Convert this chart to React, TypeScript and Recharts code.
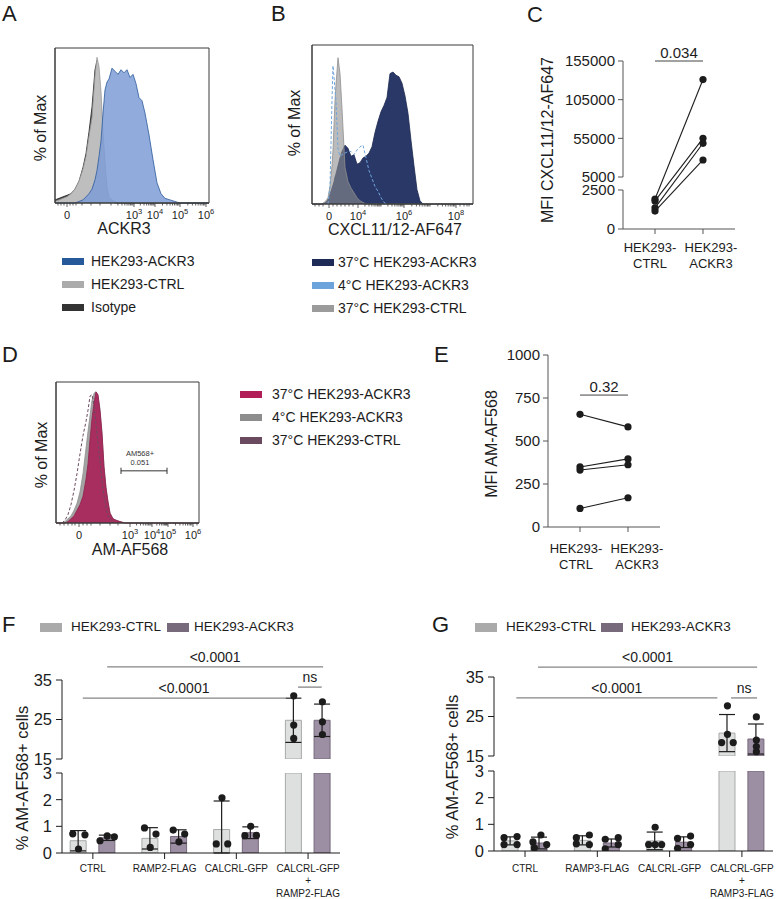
import React from 'react'
import {
  ComposedChart, Area, Line, Bar, Scatter, ErrorBar, Cell,
  XAxis, YAxis, ReferenceLine, ReferenceArea,
} from 'recharts'

const FONT = '"Liberation Sans", Arial, Helvetica, sans-serif'
const INK = '#1c1c1c'
const BOX = '#3a3a3a'

// ---- A: ACKR3 staining (x = position on the biexponential display axis, y = % of max)
const aBins = [0, 4, 8, 12, 16, 20, 24, 28, 31, 34, 37, 40, 42, 44, 46, 48, 50, 52, 54, 57, 60, 63, 66, 69, 72, 75, 78, 81, 84, 87, 90, 94, 98, 102, 106, 110, 115, 120, 125, 130, 140, 154]
const aIsotype = [2, 3, 4, 5, 6, 9, 14, 23, 32, 46, 62, 86, 92, 80, 60, 36, 18, 7, 3, 1, 0, 0, 0, 0, 0, 0, 0, 0, 0, 0, 0, 0, 0, 0, 0, 0, 0, 0, 0, 0, 0, 0]
const aCtrl = [1, 2, 3, 4, 6, 9, 14, 22, 30, 43, 55, 82, 94, 88, 72, 46, 27, 10, 4, 2, 1, 0, 0, 0, 0, 0, 0, 0, 0, 0, 0, 0, 0, 0, 0, 0, 0, 0, 0, 0, 0, 0]
const aAckr3 = [0, 0, 0, 0, 0, 0, 1, 2, 4, 6, 9, 15, 21, 30, 40, 58, 73, 78, 80, 87, 85, 83, 86, 84, 86, 81, 83, 77, 68, 66, 58, 44, 28, 13, 6, 3, 2, 1, 0, 0, 0, 0]
const aMajor = [12, 79, 100, 125, 151]
const aMajorLabels = ['0', '10^3', '10^4', '10^5', '10^6']

// ---- B: CXCL11/12 uptake
const bBins = [0, 10, 14, 16, 18, 20, 21, 22, 23, 24, 26, 28, 30, 33, 36, 39, 42, 45, 48, 51, 54, 57, 60, 63, 66, 69, 72, 75, 78, 81, 84, 87, 90, 93, 96, 99, 102, 105, 108, 111, 120, 140, 161]
const b37Ackr3 = [0, 0, 1, 3, 6, 10, 12, 14, 17, 19, 24, 29, 33, 37, 35, 30, 31, 25, 26, 29, 30, 32, 36, 45, 52, 58, 62, 67, 82, 83, 81, 80, 76, 68, 57, 40, 24, 9, 2, 0, 0, 0, 0]
const b37Ctrl = [0, 0, 2, 4, 11, 24, 34, 50, 65, 75, 92, 82, 60, 23, 14, 10, 7, 4, 2, 1, 0, 0, 0, 0, 0, 0, 0, 0, 0, 0, 0, 0, 0, 0, 0, 0, 0, 0, 0, 0, 0, 0, 0]
const b4Ackr3 = [null, null, null, 0, 11, 65, 87, 80, 72, 65, 35, 30, 31, 32, 33, 33, 31, 34, 36, 37, 29, 21, 16, 11, 8, 4, 1, 0, null, null, null, null, null, null, null, null, null, null, null, null, null, null, null]
const bMajor = [17, 46, 92, 144]
const bMajorLabels = ['0', '10^4', '10^6', '10^8']

// ---- C: MFI CXCL11/12-AF647, paired
const cCtrl = [1920, 1800, 1350, 1150]
const cAckr3 = [131000, 55000, 48600, 27000]
const cTicks = [0, 2500, 5000, 55000, 105000, 155000]
const cTickLabels = ['0', '2500', '5000', '55000', '105000', '155000']

// ---- D: AM-AF568 uptake
const dBins = [0, 6, 9, 12, 15, 18, 21, 24, 27, 30, 32, 34, 36, 38, 40, 42, 44, 46, 48, 50, 52, 54, 57, 60, 64, 69, 80, 143]
const d37Ackr3 = [0, 0, 0, 1, 3, 5, 9, 13, 19, 31, 42, 59, 74, 85, 93, 91, 80, 64, 40, 25, 15, 7, 3, 2, 1, 0, 0, 0]
const d4Ackr3 = [0, 0, 1, 3, 5, 9, 14, 22, 35, 53, 65, 76, 87, 92, 93, 90, 80, 63, 40, 25, 15, 7, 3, 2, 1, 0, 0, 0]
const d37Ctrl = [null, 0, 2, 6, 13, 23, 35, 49, 62, 72, 80, 90, 91, 84, 70, 57, 43, 30, 19, 11, 5, 3, 1, 0, null, null, null, null]
const dMajor = [23, 74, 96, 112, 137]
const dMajorLabels = ['0', '10^3', '10^4', '10^5', '10^6']

// ---- E: MFI AM-AF568, paired
const eCtrl = [655, 349, 331, 108]
const eAckr3 = [582, 396, 362, 170]
const eTicks = [0, 250, 500, 750, 1000]

// ---- F: RAMP2 experiment
const fCats = [['CTRL'], ['RAMP2-FLAG'], ['CALCRL-GFP'], ['CALCRL-GFP', '+', 'RAMP2-FLAG']]
const fCtrlMean = [0.46, 0.55, 0.88, 24.8]
const fCtrlSd = [0.38, 0.4, 1.07, 5.6]
const fAckMean = [0.57, 0.62, 0.76, 24.8]
const fAckSd = [0.1, 0.25, 0.22, 4.1]
const fCtrlDots = [[0.72, 0.68, 0.15], [0.94, 0.71, 0.21], [2.07, 0.34, 0.34], [31.0, 23.6, 20.2]]
const fAckDots = [[0.46, 0.64, 0.61], [0.86, 0.71, 0.42], [1.0, 0.65, 0.66], [29.5, 24.4, 21.2]]
const fCtrlJit = [[-0.08, 0.09, 0], [-0.08, 0.08, 0], [0, -0.08, 0.08], [0, 0, 0]]
const fAckJit = [[-0.1, 0, 0.1], [-0.08, 0.08, 0], [0, -0.08, 0.08], [0, 0, 0]]
const fSig = [
  { x1: 0.2, x2: 3.21, y: 38.3, text: '<0.0001' },
  { x1: -0.14, x2: 2.68, y: 30.4, text: '<0.0001' },
  { x1: 2.86, x2: 3.19, y: 33.2, text: 'ns' },
]

// ---- G: RAMP3 experiment
const gCats = [['CTRL'], ['RAMP3-FLAG'], ['CALCRL-GFP'], ['CALCRL-GFP', '+', 'RAMP3-FLAG']]
const gCtrlMean = [0.38, 0.4, 0.38, 20.8]
const gCtrlSd = [0.15, 0.17, 0.33, 4.7]
const gAckMean = [0.3, 0.3, 0.33, 19.3]
const gAckSd = [0.22, 0.15, 0.2, 3.8]
const gCtrlDots = [[0.5, 0.54, 0.24, 0.24], [0.5, 0.6, 0.27, 0.24], [0.89, 0.24, 0.24, 0.24], [27.7, 20.5, 18.4, 18.4]]
const gAckDots = [[0.34, 0.6, 0.12, 0.24], [0.44, 0.5, 0.08, 0.24], [0.47, 0.56, 0.1, 0.24], [24.9, 19.05, 17.4, 16.1]]
const gCtrlJit = [[-0.09, 0.09, -0.09, 0.09], [-0.09, 0.09, -0.09, 0.09], [0, -0.09, 0, 0.09], [0, 0, -0.08, 0.08]]
const gAckJit = [[-0.09, 0.02, -0.07, 0.1], [-0.09, 0.09, -0.09, 0.09], [-0.09, 0.09, -0.09, 0.09], [0, 0, 0, 0]]
const gSig = [
  { x1: 0.18, x2: 3.21, y: 37.5, text: '<0.0001' },
  { x1: -0.12, x2: 2.66, y: 29.7, text: '<0.0001' },
  { x1: 2.85, x2: 3.21, y: 29.7, text: 'ns' },
]

const CTRL_FILL = '#DDE0DF'
const CTRL_LINE = '#A7A9A8'
const ACK_FILL = '#9D8FA3'
const ACK_LINE = '#76687B'

// minor ticks inside one decade of a log axis
function decade(a: number, b: number) {
  return [2, 3, 4, 5, 6, 7, 8, 9].map((k) => a + (b - a) * Math.log10(k))
}

const aMinor = [3, 6, 9, 15, 18, 21, 27, 36, 45, 56, ...decade(56, 79), ...decade(79, 100), ...decade(100, 125), ...decade(125, 151)]
const bMinor = [3, 7, 11, 21, 25, 29, 33, 37, 41, ...decade(46, 69), 69, ...decade(69, 92), ...decade(92, 118), 118, ...decade(118, 144), 148, 152, 155, 157]
const dMinor = [4, 8, 12, 16, 19, 27, 31, 35, 44, 54, 62, ...decade(74, 96), ...decade(96, 112), ...decade(112, 137), 141]

const TS = 3

function FlowTick(props: any) {
  const { x, y, payload, majors, labels } = props
  const ax = y - TS
  const idx = majors.indexOf(payload.value)
  const major = idx >= 0
  const parts = major ? String(labels[idx]).split('^') : []
  return (
    <g>
      <line x1={x} x2={x} y1={ax} y2={ax + (major ? 4 : 2.5)} stroke={BOX} strokeWidth={0.8} />
      {major && (
        <text x={x} y={ax + 16} textAnchor="middle" fontSize={11} fill={INK}>
          {parts[0]}
          {parts[1] && <tspan dy={-5} fontSize={7.5}>{parts[1]}</tspan>}
        </text>
      )}
    </g>
  )
}

function CatTick(props: any) {
  const { x, y, payload, lines, size, lead, gap, dxs } = props
  const rows: string[] = lines[payload.value] || []
  const dx = dxs ? dxs[payload.value] || 0 : 0
  return (
    <g>
      {rows.map((t, i) => (
        <text key={i} x={x + dx} y={y + lead + i * gap} textAnchor="middle" fontSize={size} fill={INK}>{t}</text>
      ))}
    </g>
  )
}

type Layer = { values: (number | null)[]; fill?: string; stroke: string; fillOpacity?: number; line?: boolean }

function FlowPanel(props: {
  left: number; top: number; yw: number; pw: number; ph: number; bins: number[]; layers: Layer[]
  majors: number[]; labels: string[]; minors: number[]; children?: React.ReactNode
}) {
  const { left, top, yw, pw, ph, bins, layers, majors, labels, minors } = props
  const rows = bins.map((x, i) => {
    const r: any = { x }
    layers.forEach((l, j) => { r['s' + j] = l.values[i] })
    return r
  })
  return (
    <div style={{ position: 'absolute', left, top }}>
      <ComposedChart width={yw + pw + 8} height={18 + ph + 30} data={rows} margin={{ top: 18, right: 8, bottom: 0, left: 0 }}>
        <XAxis type="number" dataKey="x" domain={[0, pw]} ticks={[...majors, ...minors]} interval={0} height={30}
          tickSize={TS} tickMargin={0} tickLine={false} axisLine={{ stroke: BOX }}
          tick={<FlowTick majors={majors} labels={labels} />} />
        <YAxis type="number" domain={[0, 100]} width={yw} tick={false} tickLine={false} axisLine={{ stroke: BOX }} />
        {layers.map((l, j) => l.line ? (
          <Line key={j} type="linear" dataKey={'s' + j} stroke={l.stroke} strokeWidth={1} strokeDasharray="3 2"
            dot={false} activeDot={false} isAnimationActive={false} />
        ) : (
          <Area key={j} type="linear" dataKey={'s' + j} fill={l.fill} fillOpacity={l.fillOpacity ?? 1} stroke={l.stroke}
            strokeWidth={0.8} dot={false} activeDot={false} isAnimationActive={false} />
        ))}
        <ReferenceArea x1={0} x2={pw} y1={0} y2={100} fill="none" stroke={BOX} strokeWidth={1} ifOverflow="visible" />
        {props.children}
      </ComposedChart>
    </div>
  )
}

function GateLabel(props: any) {
  const vb = props.viewBox || {}
  const cx = vb.x + (vb.width || 0) / 2 - 4
  return (
    <g>
      <text x={cx} y={vb.y - 15} textAnchor="middle" fontSize={7.5} fill="#333">AM568+</text>
      <text x={cx} y={vb.y - 6} textAnchor="middle" fontSize={7.5} fill="#333">0.051</text>
    </g>
  )
}

// broken y axis of panel C: 0–2500 below, 5000–155000 above
function Cy(v: number) {
  return v <= 2500 ? (v / 2500) * 39 : 52 + ((v - 5000) / 150000) * 116
}
const C_XMIN = -0.667

const dotShape = (p: any) => <circle cx={p.cx} cy={p.cy} r={3.6} fill={INK} />

function barRows(cm: number[], cs: number[], am: number[], as: number[], off: number) {
  const rows: any[] = []
  cm.forEach((m, i) => {
    rows.push({ x: i - off, v: m, sd: cs[i], kind: 0 })
    rows.push({ x: i + off, v: am[i], sd: as[i], kind: 1 })
  })
  return rows
}

function dotRows(vals: number[][], jit: number[][], side: number, off: number) {
  const out: any[] = []
  vals.forEach((arr, i) => arr.forEach((y, k) => out.push({ x: i + side * off + jit[i][k], y })))
  return out
}

function BarPanel(props: {
  left: number; yw: number; pw: number; upperTop: number; lowerTop: number; xDomain: number[]; cats: string[][]
  cm: number[]; cs: number[]; am: number[]; as: number[]; cd: number[][]; ad: number[][]; cj: number[][]; aj: number[][]
  sig: { x1: number; x2: number; y: number; text: string }[]; lead: number
}) {
  const OFF = 0.2
  const W = props.yw + props.pw + 10
  const rows = barRows(props.cm, props.cs, props.am, props.as, OFF)
  const upper = rows.map((r) => ({ ...r, v: Math.max(r.v, 15), err: r.v >= 15 ? [r.sd, r.sd] : null }))
  const lower = rows.map((r) => ({ ...r, v: Math.min(r.v, 3), err: r.v <= 3 ? [Math.min(r.sd, r.v), r.sd] : null }))
  const dots = [...dotRows(props.cd, props.cj, -1, OFF), ...dotRows(props.ad, props.aj, 1, OFF)]
  const yAxisStyle = {
    type: 'number' as const, width: props.yw, allowDataOverflow: true, interval: 0,
    tick: { fontSize: 16.5, fill: INK }, tickSize: 6, tickMargin: 4,
    axisLine: { stroke: INK }, tickLine: { stroke: INK },
  }
  const cells = rows.map((r, i) => (
    <Cell key={i} fill={r.kind ? ACK_FILL : CTRL_FILL} stroke={r.kind ? ACK_LINE : CTRL_LINE} strokeWidth={1} />
  ))
  // dots live on their own (hidden) x axis so their jitter does not shrink the bar band
  const dotAxis = <XAxis xAxisId="dots" type="number" dataKey="x" domain={props.xDomain} ticks={[0, 1, 2, 3]} hide />
  return (
    <>
      <div style={{ position: 'absolute', left: props.left, top: props.upperTop }}>
        <ComposedChart width={W} height={40 + 79 + 9} data={upper} margin={{ top: 40, right: 10, bottom: 9, left: 0 }}>
          <XAxis type="number" dataKey="x" domain={props.xDomain} ticks={[0, 1, 2, 3]} hide />
          {dotAxis}
          <YAxis {...yAxisStyle} domain={[15, 35]} ticks={[15, 25, 35]} />
          <Bar dataKey="v" barSize={16} isAnimationActive={false}>
            {cells}
            <ErrorBar dataKey="err" width={8} stroke={INK} strokeWidth={1.2} direction="y" />
          </Bar>
          <Scatter xAxisId="dots" data={dots.filter((d) => d.y >= 15)} dataKey="y" shape={dotShape} isAnimationActive={false} />
          {props.sig.map((s, i) => (
            <ReferenceLine key={i} segment={[{ x: s.x1, y: s.y }, { x: s.x2, y: s.y }]} stroke="#858585" strokeWidth={1.3}
              ifOverflow="visible" label={{ value: s.text, position: 'top', fontSize: 14, fill: INK, offset: 5 }} />
          ))}
        </ComposedChart>
      </div>
      <div style={{ position: 'absolute', left: props.left, top: props.lowerTop }}>
        <ComposedChart width={W} height={10 + 80 + 46} data={lower} margin={{ top: 10, right: 10, bottom: 0, left: 0 }}>
          <XAxis type="number" dataKey="x" domain={props.xDomain} ticks={[0, 1, 2, 3]} interval={0} height={46}
            tickSize={6} tickMargin={0} axisLine={{ stroke: INK }} tickLine={{ stroke: INK }}
            tick={<CatTick lines={props.cats} size={10} lead={props.lead} gap={12.5} />} />
          {dotAxis}
          <YAxis {...yAxisStyle} domain={[0, 3]} ticks={[0, 1, 2, 3]} />
          <Bar dataKey="v" barSize={16} isAnimationActive={false}>
            {cells}
            <ErrorBar dataKey="err" width={8} stroke={INK} strokeWidth={1.2} direction="y" />
          </Bar>
          <Scatter xAxisId="dots" data={dots.filter((d) => d.y <= 3)} dataKey="y" shape={dotShape} isAnimationActive={false} />
        </ComposedChart>
      </div>
    </>
  )
}

function T({ x, y, size = 14, anchor = 'start', children }: any) {
  const tx = anchor === 'middle' ? '-50%' : anchor === 'end' ? '-100%' : '0'
  return (
    <div style={{ position: 'absolute', left: x, top: y, transform: `translate(${tx}, -50%)`, fontSize: size, lineHeight: 1, whiteSpace: 'nowrap', color: INK }}>
      {children}
    </div>
  )
}

function VT({ x, y, size = 16, children }: any) {
  return (
    <div style={{ position: 'absolute', left: x, top: y, transform: 'translate(-50%, -50%) rotate(-90deg)', fontSize: size, lineHeight: 1, whiteSpace: 'nowrap', color: INK }}>
      {children}
    </div>
  )
}

function Legend3({ x, tx, y0, step, items, h = 7, size = 14 }: any) {
  return (
    <>
      {items.map((it: string[], i: number) => (
        <React.Fragment key={i}>
          <div style={{ position: 'absolute', left: x, top: y0 + i * step - h / 2, width: 22, height: h, background: it[1] }} />
          <T x={tx} y={y0 + i * step} size={size}>{it[0]}</T>
        </React.Fragment>
      ))}
    </>
  )
}

const aLegend = [['HEK293-ACKR3', '#25599A'], ['HEK293-CTRL', '#ABABAB'], ['Isotype', '#333333']]
const bLegend = [['37°C HEK293-ACKR3', '#1E2B57'], ['4°C HEK293-ACKR3', '#6CA3DB'], ['37°C HEK293-CTRL', '#9B9B9B']]
const dLegend = [['37°C HEK293-ACKR3', '#B21E58'], ['4°C HEK293-ACKR3', '#8D8D8D'], ['37°C HEK293-CTRL', '#6A4A5E']]
const pairCats = [['HEK293-', 'CTRL'], ['HEK293-', 'ACKR3']]

export default function App() {
  const cTickPos = cTicks.map(Cy)
  return (
    <div style={{ position: 'absolute', left: 0, top: 0, width: 780, height: 899, background: '#fff', fontFamily: FONT, color: INK, overflow: 'hidden' }}>
      {/* panel letters */}
      <T x={2} y={14} size={22}>A</T>
      <T x={271} y={14} size={22}>B</T>
      <T x={527} y={15} size={22}>C</T>
      <T x={2} y={355} size={22}>D</T>
      <T x={434} y={355} size={22}>E</T>
      <T x={2} y={625} size={22}>F</T>
      <T x={432} y={625} size={22}>G</T>

      {/* A */}
      <FlowPanel left={0} top={30} yw={55} pw={154} ph={155} bins={aBins} majors={aMajor} labels={aMajorLabels} minors={aMinor}
        layers={[
          { values: aIsotype, fill: '#4a4a4a', stroke: '#1f1f1f' },
          { values: aCtrl, fill: '#BEBEBE', stroke: '#9a9a9a' },
          { values: aAckr3, fill: '#7D9CD6', stroke: '#2C5A9A', fillOpacity: 0.85 },
        ]} />
      <VT x={41} y={128}>% of Max</VT>
      <T x={124} y={229} size={16} anchor="middle">ACKR3</T>
      <Legend3 x={62} tx={91} y0={261} step={23} items={aLegend} />

      {/* B */}
      <FlowPanel left={250} top={27} yw={62} pw={161} ph={159} bins={bBins} majors={bMajor} labels={bMajorLabels} minors={bMinor}
        layers={[
          { values: b37Ackr3, fill: '#2A3868', stroke: '#1B274F' },
          { values: b37Ctrl, fill: '#8E8E8E', stroke: '#8E8E8E', fillOpacity: 0.6 },
          { values: b4Ackr3, stroke: '#6FA6DC', line: true },
        ]} />
      <VT x={295} y={123}>% of Max</VT>
      <T x={395} y={230} size={16} anchor="middle">CXCL11/12-AF647</T>
      <Legend3 x={312} tx={338} y0={262} step={23} items={bLegend} />

      {/* C */}
      <div style={{ position: 'absolute', left: 500, top: 40 }}>
        <ComposedChart width={243} height={21 + 168 + 45} margin={{ top: 21, right: 8, bottom: 0, left: 0 }}>
          <XAxis type="number" dataKey="x" domain={[C_XMIN, 1.667]} ticks={[0, 1]} interval={0} height={45}
            tickSize={5} tickMargin={0} axisLine={{ stroke: '#555' }} tickLine={{ stroke: '#555' }}
            tick={<CatTick lines={pairCats} size={13} lead={17.5} gap={16} dxs={[-5, 8]} />} />
          <YAxis type="number" domain={[0, 168]} ticks={cTickPos} interval={0} width={123} axisLine={false}
            tickLine={{ stroke: '#555' }} tickSize={5} tickMargin={3} tick={{ fontSize: 15, fill: INK }}
            tickFormatter={(v: number) => cTickLabels[cTickPos.indexOf(v)]} />
          <ReferenceLine segment={[{ x: C_XMIN, y: 0 }, { x: C_XMIN, y: Cy(2500) }]} stroke="#555" ifOverflow="visible" />
          <ReferenceLine segment={[{ x: C_XMIN, y: Cy(5000) }, { x: C_XMIN, y: Cy(155000) }]} stroke="#555" ifOverflow="visible" />
          <ReferenceLine segment={[{ x: 0, y: Cy(155000) }, { x: 1, y: Cy(155000) }]} stroke="#444" ifOverflow="visible"
            label={{ value: '0.034', position: 'top', fontSize: 15, fill: INK, offset: 3 }} />
          {cCtrl.map((v, i) => (
            <Line key={i} data={[{ x: 0, y: Cy(v) }, { x: 1, y: Cy(cAckr3[i]) }]} dataKey="y" stroke={INK} strokeWidth={1.1}
              dot={{ r: 3.6, fill: INK, stroke: INK, strokeWidth: 0 }} activeDot={false} isAnimationActive={false} />
          ))}
        </ComposedChart>
      </div>
      <VT x={548} y={140}>MFI CXCL11/12-AF647</VT>

      {/* D */}
      <FlowPanel left={0} top={364} yw={56} pw={143} ph={141} bins={dBins} majors={dMajor} labels={dMajorLabels} minors={dMinor}
        layers={[
          { values: d37Ctrl, stroke: '#6B4B5F', line: true },
          { values: d4Ackr3, fill: '#A3A3A3', stroke: '#8F8F8F' },
          { values: d37Ackr3, fill: '#A9285C', stroke: '#8F1F4D', fillOpacity: 0.95 },
        ]}>
        <ReferenceLine segment={[{ x: 65, y: 37 }, { x: 111, y: 37 }]} stroke="#333" ifOverflow="visible" label={<GateLabel />} />
        <ReferenceLine segment={[{ x: 65, y: 34.8 }, { x: 65, y: 39.2 }]} stroke="#333" ifOverflow="visible" />
        <ReferenceLine segment={[{ x: 111, y: 34.8 }, { x: 111, y: 39.2 }]} stroke="#333" ifOverflow="visible" />
      </FlowPanel>
      <VT x={42} y={455}>% of Max</VT>
      <T x={130} y={550} size={16} anchor="middle">AM-AF568</T>
      <Legend3 x={240} tx={272} y0={394} step={23} items={dLegend} />

      {/* E */}
      <div style={{ position: 'absolute', left: 430, top: 340 }}>
        <ComposedChart width={238} height={15 + 172 + 45} margin={{ top: 15, right: 8, bottom: 0, left: 0 }}>
          <XAxis type="number" dataKey="x" domain={[-0.667, 1.667]} ticks={[0, 1]} interval={0} height={45}
            tickSize={5} tickMargin={0} axisLine={{ stroke: '#555' }} tickLine={{ stroke: '#555' }}
            tick={<CatTick lines={pairCats} size={13} lead={21} gap={16} dxs={[-4, 9]} />} />
          <YAxis type="number" domain={[0, 1000]} ticks={eTicks} interval={0} width={118} axisLine={{ stroke: '#555' }}
            tickLine={{ stroke: '#555' }} tickSize={5} tickMargin={3} tick={{ fontSize: 15, fill: INK }} />
          <ReferenceLine segment={[{ x: 0, y: 767 }, { x: 1, y: 767 }]} stroke="#444" ifOverflow="visible"
            label={{ value: '0.32', position: 'top', fontSize: 15, fill: INK, offset: 3 }} />
          {eCtrl.map((v, i) => (
            <Line key={i} data={[{ x: 0, y: v }, { x: 1, y: eAckr3[i] }]} dataKey="y" stroke={INK} strokeWidth={1.1}
              dot={{ r: 3.6, fill: INK, stroke: INK, strokeWidth: 0 }} activeDot={false} isAnimationActive={false} />
          ))}
        </ComposedChart>
      </div>
      <VT x={492} y={444}>MFI AM-AF568</VT>

      {/* F */}
      <div style={{ position: 'absolute', left: 40, top: 623, width: 22, height: 9, background: '#AAAAAA' }} />
      <T x={71} y={627} size={13.5}>HEK293-CTRL</T>
      <div style={{ position: 'absolute', left: 167, top: 623, width: 22, height: 9, background: '#776A7A' }} />
      <T x={194} y={627} size={13.5}>HEK293-ACKR3</T>
      <BarPanel left={0} yw={62} pw={278} upperTop={640} lowerTop={763} xDomain={[-0.43, 3.445]} cats={fCats}
        cm={fCtrlMean} cs={fCtrlSd} am={fAckMean} as={fAckSd} cd={fCtrlDots} ad={fAckDots} cj={fCtrlJit} aj={fAckJit}
        sig={fSig} lead={12.5} />
      <VT x={22} y={778} size={16.5}>% AM-AF568+ cells</VT>

      {/* G */}
      <div style={{ position: 'absolute', left: 475, top: 623, width: 22, height: 9, background: '#AAAAAA' }} />
      <T x={506} y={627} size={13.5}>HEK293-CTRL</T>
      <div style={{ position: 'absolute', left: 601, top: 623, width: 22, height: 9, background: '#776A7A' }} />
      <T x={631} y={627} size={13.5}>HEK293-ACKR3</T>
      <BarPanel left={430} yw={64} pw={279} upperTop={637} lowerTop={761} xDomain={[-0.429, 3.43]} cats={gCats}
        cm={gCtrlMean} cs={gCtrlSd} am={gAckMean} as={gAckSd} cd={gCtrlDots} ad={gAckDots} cj={gCtrlJit} aj={gAckJit}
        sig={gSig} lead={14.5} />
      <VT x={452} y={767} size={16.5}>% AM-AF568+ cells</VT>
    </div>
  )
}
